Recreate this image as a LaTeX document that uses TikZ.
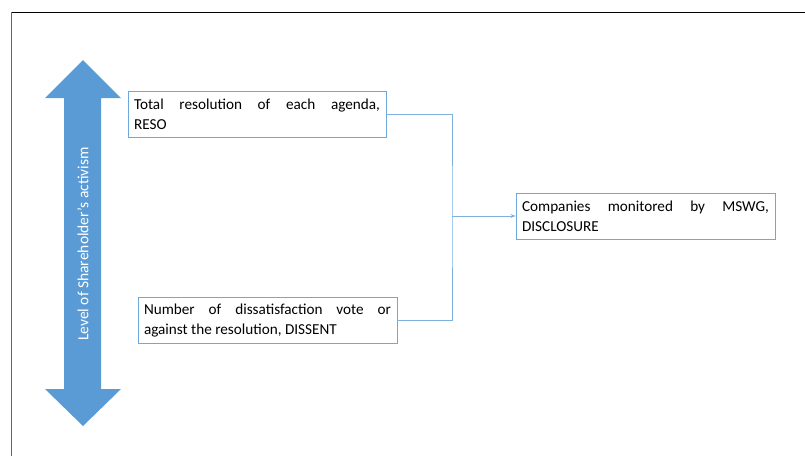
\documentclass[tikz,border=0pt]{standalone}
\usepackage{fontspec}
\setmainfont{Carlito}
\usetikzlibrary{arrows.meta}
\definecolor{arrowblue}{HTML}{5B9BD5}
\definecolor{boxblue}{HTML}{6FA8DC}
\definecolor{lineblue}{HTML}{7EB0E0}
\newcommand\boxfont{\fontsize{15.2pt}{20pt}\selectfont\hyphenpenalty10000\relax}
\tikzset{
  txtbox/.style={draw=boxblue, line width=0.9pt, fill=white, inner xsep=6pt, inner ysep=0pt,
    text width=#1, align=justify, minimum height=46pt, font=\boxfont, anchor=center},
  conn/.style={draw=lineblue, line width=0.9pt},
}
\begin{document}
\begin{tikzpicture}[x=1pt,y=-1pt]
\useasboundingbox (0,0) rectangle (805,456);
% frame
\draw[black, line width=1pt] (11,12) -- (805,12);
\draw[gray!80!black, line width=1pt] (11,12) -- (11,456);
% double arrow
\fill[arrowblue] (83,60) -- (121,98) -- (101,98) -- (101,389) -- (121,389) -- (83,426)
  -- (45,389) -- (64,389) -- (64,98) -- (45,98) -- cycle;
\node[rotate=90, text=white, font=\fontsize{15.5pt}{18pt}\selectfont] (lvl) at (83,244) {Level of Shareholder’s activism};
% boxes
\node[txtbox=246pt, minimum width=258pt] (reso) at (257,114) {Total resolution of each agenda,\linebreak RESO};
\node[txtbox=247pt, minimum width=259pt] (dis) at (267.5,320.5) {Number of dissatisfaction vote or\linebreak against the resolution, DISSENT};
\node[txtbox=247pt, minimum width=259pt] (disc) at (645.5,216) {Companies monitored by MSWG,\linebreak DISCLOSURE};
% connectors
\coordinate (j) at (452,216);
\draw[conn] (reso.east) -| (j) |- (dis.east);
\draw[conn, -{Stealth[length=5pt,width=4pt]}] (j) -- (disc.west);
\end{tikzpicture}
\end{document}
